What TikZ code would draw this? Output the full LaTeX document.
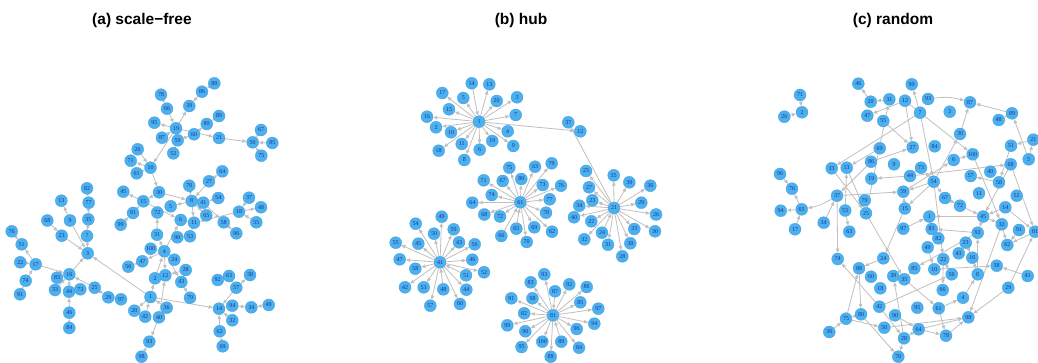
\documentclass[tikz,border=0pt]{standalone}
\usepackage{fontspec}
\setmainfont{Liberation Serif}
\newfontfamily\titlefont{Liberation Sans}
\usetikzlibrary{arrows.meta}
\pgfdeclarelayer{edges}
\pgfdeclarelayer{paper}
\pgfsetlayers{paper,edges,main}
\definecolor{vfill}{RGB}{77,176,238}
\definecolor{vline}{RGB}{60,158,222}
\definecolor{vtext}{RGB}{28,48,140}
\definecolor{ecol}{RGB}{192,192,192}
\tikzset{
  v/.style={circle,fill=vfill,draw=vline,line width=0.3pt,minimum size=12pt,inner sep=0pt,
    text=vtext,font=\fontsize{6}{6}\selectfont},
  edge/.style={draw=ecol,line width=0.8pt,-{Triangle[length=4.2pt,width=3.4pt]}},
  ttl/.style={font=\titlefont\bfseries\fontsize{15.5}{15.5}\selectfont}
}
\begin{document}
\begin{tikzpicture}[x=1pt,y=-1pt]
\useasboundingbox (0,0) rectangle (1038,363);
\begin{pgfonlayer}{paper}
\fill[white] (0,0) rectangle (1038,363);
\end{pgfonlayer}

\node[ttl] (ta) at (142,20) {(a) scale−free};
\node[ttl] (tb) at (521,20) {(b) hub};
\node[ttl] (tc) at (893,20) {(c) random};

% ---------- (a) scale-free ----------
\foreach \i/\x/\y in {88/214.3/83.3,78/161/94.7,86/202/91.7,66/167/108.7,39/189.3/106,89/219/116,
  95/154.3/122.7,19/176/128.3,80/206.7/124,87/162/137.7,59/177.7/140.3,60/194/134.3,21/219/138,
  67/261/130,50/252.7/142.3,85/272.3/143,75/261.3/155.7,52/173.3/153.3,26/137.7/149.3,71/130.7/160.7,
  10/150.5/167.7,61/136.7/173.3,64/222.3/171.3,27/209/181.3,70/189.3/185.7,82/87/188.3,45/123.3/191.7,
  30/159/192.3,15/143.3/201.3,13/61.3/200.7,77/88.7/202.7,8/191.7/201,41/203.3/202.7,54/218.3/198,
  37/249/197.7,48/261/207.3,5/170.7/206.3,18/239/211.7,81/133/213,72/157.3/212.5,65/206.3/215.3,
  6/180.7/220,11/194/222.7,58/223.7/222.3,55/256.3/222.3,68/47.3/220.5,9/70/220.5,35/88.3/219.3,
  99/120.7/224.7,76/11.7/231.3,23/61.7/235.7,7/87/236,96/236.3/233.3,31/157/234.7,90/177.3/237.3,
  53/190/236.3,51/21.7/244.3,100/150.7/248.7,4/164.3/251.3,3/87.7/253.3,24/174.3/259.7,47/142.3/261.3,
  22/20.3/262.3,17/35.7/264.3,56/128.3/266.7,28/185.7/270,16/69.3/274.3,12/165.3/275.3,63/229/276,
  92/217.7/280,38/250/275,2/155/278.3,43/181.3/282,83/57/277.7,74/25.7/280.7,57/236.3/287.7,
  25/94.7/287.7,33/55/290,73/80.3/289.3,44/69/291.7,91/20/294.3,1/150.5/297,29/108.3/297.3,
  79/190/297.7,97/121/299.3,49/268.7/305,94/232.3/305.7,34/251.3/307.3,36/166.7/307.7,14/219/308.7,
  20/134.3/310.7,46/69.3/312.7,42/145.2/316.7,40/159/317.3,32/232.3/320.3,84/69.3/328,62/219.7/331.3,
  93/149.3/341.7,69/222.7/346.3,98/141.5/356.7}
  \node[v] (a\i) at (\x,\y) {\i};

\begin{pgfonlayer}{edges}
\foreach \s/\t in {88/86,86/39,78/66,66/19,19/39,19/95,19/21,59/19,87/19,52/59,59/60,60/80,89/80,
  21/50,67/50,85/50,75/50,19/10,26/10,10/71,61/10,10/30,30/8,30/15,15/45,81/15,99/81,15/6,
  8/5,70/8,27/8,27/64,54/41,41/8,8/11,8/65,41/58,58/96,18/11,37/18,18/48,55/18,6/11,11/53,90/53,
  4/6,4/31,31/72,100/4,4/47,24/4,4/12,2/4,4/43,43/79,28/12,1/2,40/12,1/14,36/1,42/1,40/93,98/93,
  57/14,63/57,92/63,57/38,94/14,94/34,49/34,32/14,62/14,69/62,1/20,1/3,7/3,35/7,77/35,82/77,9/3,
  68/23,23/3,9/13,16/3,17/16,17/51,76/51,22/17,74/17,91/74,83/16,33/16,44/16,73/44,46/44,84/46,
  25/16,25/29,97/29,47/56}
  \draw[edge] (a\s) -- (a\t);
\end{pgfonlayer}

% ---------- (b) hub ----------
\foreach \i/\x/\y in {1/479/121.7,14/471.7/83.3,13/489.3/84.3,17/442.3/93,5/463.3/98,20/496.7/101,
  3/517/97.3,15/449/109.3,16/427/116.7,7/515.7/115,2/436/127.3,10/451/132.3,4/507.7/131.3,
  11/461.7/144,6/479.7/149.7,19/492.3/141,9/513.3/146,18/438.7/150.7,8/464.3/160,12/580.3/131.3,
  37/568.3/122.3,
  21/614/208,25/586/171,35/613.7/175.3,39/629.3/182.3,36/650.3/185.7,27/589/187.3,23/592.3/200.3,
  29/641.3/202.7,34/579.3/205.7,26/656/214.5,40/574/217.3,22/591.3/221.3,33/634.3/229,30/655/231.3,
  24/602/232.7,32/584.3/239.3,31/608/244.7,38/630.3/243.3,28/622.3/256.3,
  61/520.3/202.3,75/509.3/167.7,80/521.3/179,71/483.7/180.3,67/502.7/181,74/491.7/195,64/472.3/202.7,
  68/484.3/214.5,72/500/216.5,63/535/166.7,79/551.7/163.3,73/542.7/185,76/561/185.7,77/549.7/199.3,
  78/546/212.7,66/501.3/236,65/516.3/228.7,70/526.7/242,69/534.3/227.3,62/552/231.7,
  41/440/262.3,49/441.7/216.7,54/415.7/223.7,50/434/233.7,59/453.7/229.3,43/459/242.3,56/474.7/244.3,
  55/395.7/242.7,45/418.3/243.7,47/399.7/259.3,46/472.3/259.7,58/415.3/268.7,52/484/272.3,
  51/466/275.3,42/405/287.3,53/423.7/287.3,48/443.3/289.3,44/466.3/289.7,57/430.3/305.7,60/460/304,
  81/553/315.3,93/544.3/274.3,83/530.7/282.3,92/569.3/284.3,86/586.7/287,87/555/291.3,98/532.5/298.3,
  85/580.3/302.3,97/598.3/308.7,82/524.2/313.3,94/594.3/323.7,90/525.3/331.3,96/576.7/329,
  100/542.3/341.7,89/561.3/341.7,95/521.5/347,84/579/347.7,88/550.7/356.7,91/511.3/298.3,99/507.3/325.3}
  \node[v] (b\i) at (\x,\y) {\i};

\begin{pgfonlayer}{edges}
\foreach \s/\t in {1/13,1/17,1/5,1/20,1/3,1/15,1/16,1/7,1/2,1/10,1/4,1/11,1/6,1/19,1/9,1/18,1/8,1/12,14/1,
  21/25,21/35,21/39,21/36,21/27,21/23,21/29,21/34,21/26,21/40,21/22,21/33,21/30,21/32,21/31,21/38,21/28,21/37,24/21,
  61/75,61/80,61/71,61/67,61/74,61/64,61/68,61/72,61/63,61/79,61/73,61/76,61/77,61/78,61/70,61/69,61/62,65/61,66/61,
  41/49,41/54,41/50,41/59,41/43,41/56,41/55,41/45,41/47,41/46,41/58,41/52,41/42,41/53,41/57,41/60,41/44,48/41,51/41,
  81/93,81/83,81/92,81/86,81/98,81/85,81/97,81/82,81/94,81/90,81/96,81/100,81/95,81/84,81/88,81/91,81/99,87/81,89/81}
  \draw[edge] (b\s) -- (b\t);
\end{pgfonlayer}

% ---------- (c) random ----------
\foreach \i/\x/\y in {46/858.3/83.7,71/800/95,2/802/112.3,26/784.3/116.7,20/870.7/101.7,31/889.3/99.3,
  12/905/100.7,99/911.7/84.3,93/928/99,87/970/102.3,7/920/112.7,3/949.7/111.7,89/1012/113.3,
  48/998.7/120,47/867.3/115.7,55/883.3/121,30/960/134,21/1033.3/139.7,51/1011/145.7,27/912.7/147.3,
  84/934.7/146.3,69/879.7/148.3,100/972.7/154.3,5/1028.7/159.3,6/953.7/160,86/871/161.7,9/894/164.3,
  68/1010.7/164.3,33/831.7/168.3,13/846.7/167.7,73/921/167.7,40/990.3/171.7,96/780/174,44/910/176,
  57/970.7/176,19/871.3/178.7,54/933.7/181.7,58/999/182.3,76/792/188.7,59/903.3/191.7,11/979/193.3,
  37/837/195.7,52/1016.7/195.7,67/945/198,79/864.7/200.3,72/960/205.7,14/1005.3/207.3,15/904.8/208.5,
  65/801.7/209.3,94/780.7/210.7,53/845.2/210.5,25/866/213.3,1/929.3/216.5,45/983.2/216.5,
  34/823.7/222.7,97/903.3/228.7,17/795/229.3,83/931.7/229,91/1019/230,81/1035/231.7,63/849.3/231.7,
  92/977.7/232.7,32/1001.7/224.3,82/938.3/238.3,23/965.7/242.7,62/1007.3/245,49/927.7/247.3,
  43/958.7/253.3,16/972.3/257.7,24/883.3/258.3,74/837.7/259,22/943.3/259.3,38/996.7/265.7,
  88/859/268.3,85/914.3/268.3,10/934.3/269.3,56/951.7/274.3,8/977.7/274.3,41/1027.7/276,60/871/276.7,
  39/893.3/276,35/904.3/279.3,29/1008.3/287.7,18/880.3/288.3,66/942.7/290,4/963/297.7,42/879.3/306.7,
  95/917.3/307.7,61/938.7/308.3,80/861/314.3,90/895/315.3,98/968.3/317.3,75/846/318.7,50/884.3/327.7,
  64/918.7/329.3,36/829.3/332,78/946/335.7,28/904/338.3,70/898.3/356.7}
  \node[v] (c\i) at (\x,\y) {\i};

\begin{pgfonlayer}{edges}
\foreach \s/\t in {71/2,26/2,20/46,31/20,12/47,55/27,7/33,69/13,86/37,44/19,53/13,33/25,13/25,25/31,
  37/59,65/76,96/76,65/94,17/65,34/37,7/99,30/87,89/87,89/48,5/89,21/51,5/21,51/58,58/57,
  44/68,68/45,68/81,54/30,59/6,12/100,100/32,73/44,54/73,54/59,54/67,67/72,72/45,45/1,14/45,14/81,
  7/54,54/15,86/27,12/27,15/59,6/100,53/63,37/74,42/74,24/88,25/35,15/24,88/80,75/88,80/75,36/75,
  75/50,80/70,42/28,28/39,45/32,1/83,92/83,83/82,8/92,45/92,23/16,16/8,49/10,22/66,22/56,41/38,
  85/35,42/56,10/38,92/85,91/62,32/62,81/62,29/81,29/98,32/98,61/4,4/8,61/78,64/98,64/78,78/98,
  64/28,28/70,35/61,50/98,90/64,97/1,54/22}
  \draw[edge] (c\s) -- (c\t);
% two gently curved connectors
\draw[edge] (c93) to[bend left=12] (c87);
\draw[edge] (c37) to[bend left=10] (c65);
\end{pgfonlayer}
\end{tikzpicture}
\end{document}
